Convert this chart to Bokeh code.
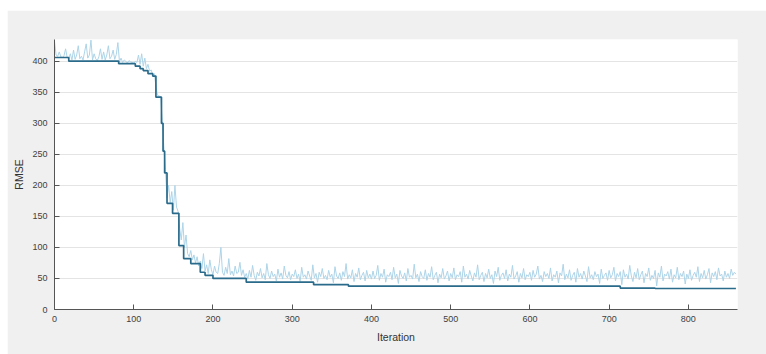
from bokeh.plotting import figure
from bokeh.models import Range1d, FixedTicker
from bokeh.embed import file_html
from bokeh.resources import INLINE

# ---- data ----
best_iter = [0, 18, 81, 102, 108, 112, 118, 124, 128, 135, 137, 139, 142, 149, 157,
             163, 172, 184, 190, 200, 242, 327, 371, 714, 758, 860]
best_rmse = [406, 400, 396, 392, 388, 385, 380, 376, 342, 300, 255, 220, 171, 155, 103,
             82, 74, 60, 55, 50, 44, 40, 37.5, 34.5, 33.8, 33.8]

cur_rmse = [
    432, 410, 408, 415, 407, 406, 409, 420, 406, 404,
    412, 402, 418, 403, 410, 425, 404, 408, 402, 415,
    428, 405, 410, 434, 402, 412, 404, 401, 407, 420,
    403, 415, 402, 410, 425, 404, 408, 418, 403, 411,
    430, 399, 405, 398, 402, 400, 397, 401, 399, 398,
    397,
    400, 398, 410, 395, 412, 392, 405, 388, 395, 384,
    386, 378, 380, 360, 345, 344, 343, 305, 262, 225,
    180, 200, 172, 190, 160, 200, 165, 158, 130, 112,
    140, 100, 120, 90, 85, 95, 80, 88, 75, 85,
    70, 78, 66, 90, 62, 72, 58, 80, 64, 56,
    70, 60, 58, 74, 100, 60, 55, 68, 58, 82,
    56, 62, 54, 70, 58, 60, 76, 55, 64, 52,
    58, 49, 63, 52, 71, 55, 47, 60, 54, 66,
    51, 58, 48, 74, 56, 50, 62, 53, 57, 46,
    65, 52, 59, 49, 70, 55, 51, 61, 48, 57,
    53, 64, 50, 57, 45, 68, 52, 56, 49, 62,
    54, 47, 72, 51, 58, 44, 60, 53, 66, 50,
    55, 48, 63, 52, 57, 43, 69, 54, 50, 59,
    47, 61, 53, 74, 49, 56, 51, 64, 45, 58,
    52, 67, 48, 55, 60, 46, 63, 51, 57, 49,
    62, 50, 55, 71, 47, 58, 52, 65, 44, 56,
    53, 60, 48, 68, 51, 57, 42, 63, 54, 50,
    59, 46, 66, 52, 55, 49, 73, 51, 57, 45,
    61, 53, 50, 64, 47, 58, 52, 69, 48, 55,
    60, 43, 57, 51, 66, 49, 54, 62, 46, 58,
    51, 67, 48, 56, 53, 61, 44, 70, 52, 57,
    49, 63, 54, 46, 59, 52, 72, 48, 55, 60,
    45, 58, 51, 65, 50, 56, 42, 62, 53, 68,
    47, 55, 59, 50, 64, 46, 57, 52, 71, 49,
    54, 61, 44, 58, 51, 66, 48, 56, 53, 60,
    47, 63, 52, 57, 70, 49, 55, 45, 61, 53,
    58, 50, 67, 46, 56, 52, 62, 43, 59, 54,
    73, 48, 57, 51, 64, 47, 55, 60, 44, 66,
    52, 58, 49, 62, 54, 45, 69, 51, 56, 48,
    61, 53, 57, 42, 65, 50, 55, 59, 47, 63,
    51, 56, 68, 46, 58, 53, 61, 40, 64, 52,
    57, 49, 71, 54, 45, 60, 51, 66, 48, 56,
    62, 43, 58, 53, 67, 47, 55, 50, 63, 38,
    59, 52, 70, 46, 57, 54, 61, 49, 65, 44,
    56, 51, 68, 48, 58, 53, 62, 41, 57, 50,
    64, 47, 55, 60, 52, 69, 45, 58, 51, 63,
    49, 56, 66, 43, 59, 53, 61, 48, 67, 54,
    57, 46, 62, 52, 58, 50, 65, 55, 60, 57,
]
cur_iter = list(range(0, 2 * len(cur_rmse), 2))

x_ticks = [0, 100, 200, 300, 400, 500, 600, 700, 800]
y_ticks = [0, 50, 100, 150, 200, 250, 300, 350, 400]

# ---- figure ----
p = figure(width=759, height=344, output_backend="svg", toolbar_location=None,
           x_range=Range1d(0, 862), y_range=Range1d(0, 435),
           min_border_left=47, min_border_top=29, min_border_right=29, min_border_bottom=45)
p.margin = (10, 0, 0, 7)
p.border_fill_color = "#f0f0f0"
p.background_fill_color = "white"
p.outline_line_color = None

p.line(cur_iter, cur_rmse, line_color="#add4e8", line_width=1)
p.step(best_iter, best_rmse, mode="after", line_color="#2a6b8b", line_width=1.7)

p.xgrid.grid_line_color = None
p.ygrid.grid_line_color = "#e4e4e4"
p.ygrid.grid_line_width = 1

for ax in (p.xaxis[0], p.yaxis[0]):
    ax.axis_line_color = "#555555"
    ax.axis_line_width = 1
    ax.major_tick_line_color = "#555555"
    ax.major_tick_in = 5
    ax.major_tick_out = 0
    ax.minor_tick_line_color = None
    ax.major_label_text_font = "Liberation Sans"
    ax.major_label_text_font_size = "9px"
    ax.major_label_text_color = "#404040"
    ax.axis_label_text_font = "Liberation Sans"
    ax.axis_label_text_font_size = "10.5px"
    ax.axis_label_text_font_style = "normal"
    ax.axis_label_text_color = "#333333"

p.xaxis[0].ticker = FixedTicker(ticks=x_ticks)
p.yaxis[0].ticker = FixedTicker(ticks=y_ticks)
p.xaxis[0].axis_label = "Iteration"
p.yaxis[0].axis_label = "RMSE"
p.xaxis[0].major_label_standoff = 6
p.yaxis[0].major_label_standoff = 7
p.xaxis[0].axis_label_standoff = 6
p.yaxis[0].axis_label_standoff = 4

open("out.html", "w").write(file_html(p, INLINE))
